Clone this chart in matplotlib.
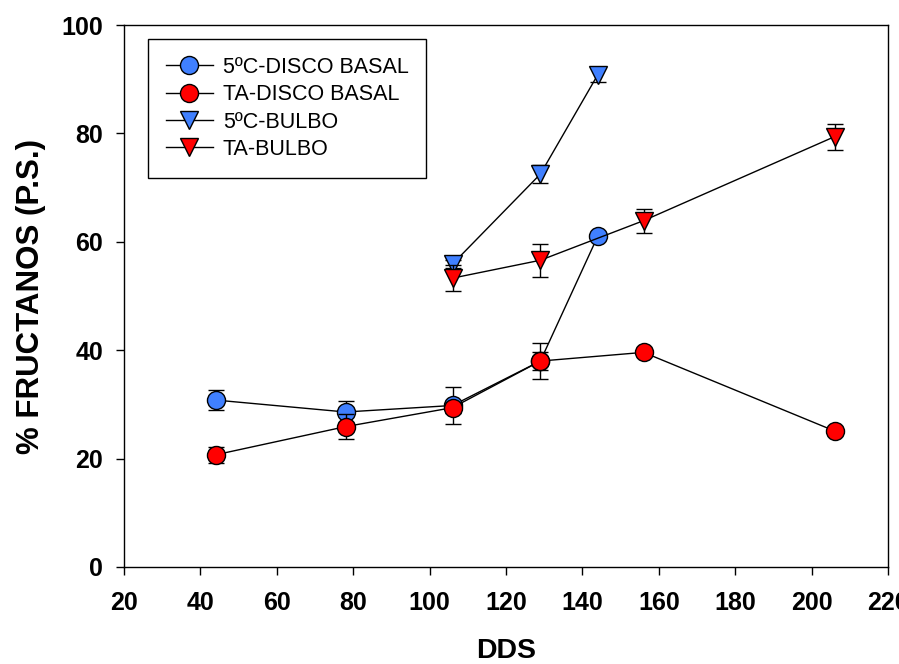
import matplotlib
matplotlib.use("Agg")
from matplotlib import pyplot as plt

plt.rcParams['font.family'] = ['Liberation Sans', 'DejaVu Sans']

BLUE = '#4080ff'
RED = '#ff0000'

# 5ºC - disco basal
x_5c_disco = [44, 78, 106, 129, 144]
y_5c_disco = [30.8, 28.6, 29.8, 38.0, 61.0]
e_5c_disco = [1.9, 2.1, 3.4, 3.3, 0.0]

# TA - disco basal
x_ta_disco = [44, 78, 106, 129, 156, 206]
y_ta_disco = [20.7, 25.9, 29.4, 38.0, 39.6, 25.1]
e_ta_disco = [1.5, 2.3, 1.0, 1.7, 0.0, 0.0]

# 5ºC - bulbo
x_5c_bulbo = [106, 129, 144]
y_5c_bulbo = [55.9, 72.5, 90.8]
e_5c_bulbo = [0.8, 1.7, 1.3]

# TA - bulbo
x_ta_bulbo = [106, 129, 156, 206]
y_ta_bulbo = [53.3, 56.6, 63.9, 79.4]
e_ta_bulbo = [2.4, 3.0, 2.2, 2.4]

x_ticks = [20, 40, 60, 80, 100, 120, 140, 160, 180, 200, 220]
y_ticks = [0, 20, 40, 60, 80, 100]

series = [
    (x_5c_disco, y_5c_disco, e_5c_disco, 'o', BLUE, '5ºC-DISCO BASAL'),
    (x_ta_disco, y_ta_disco, e_ta_disco, 'o', RED, 'TA-DISCO BASAL'),
    (x_5c_bulbo, y_5c_bulbo, e_5c_bulbo, 'v', BLUE, '5ºC-BULBO'),
    (x_ta_bulbo, y_ta_bulbo, e_ta_bulbo, 'v', RED, 'TA-BULBO'),
]

fig = plt.figure(figsize=(8.99, 6.64), dpi=100)
ax = fig.add_axes([0.1379, 0.1461, 0.8499, 0.8162])

handles = []
for i, (xs, ys, es, mk, col, lab) in enumerate(series):
    ax.errorbar(xs, ys, yerr=es, fmt='none', ecolor='black', elinewidth=1.0,
                capsize=6, capthick=1.0, zorder=2 + 2 * i)
    h, = ax.plot(xs, ys, color='black', linewidth=1.0, marker=mk,
                 markersize=13, markerfacecolor=col, markeredgecolor='black',
                 markeredgewidth=1.0, label=lab, zorder=3 + 2 * i)
    handles.append(h)

ax.set_xlim(20, 220)
ax.set_ylim(0, 100)
ax.set_xticks(x_ticks)
ax.set_yticks(y_ticks)
ax.tick_params(axis='both', direction='out', length=6, width=1.0,
               labelsize=18)
ax.tick_params(axis='x', pad=11)
ax.tick_params(axis='y', pad=9)
for lbl in ax.get_xticklabels() + ax.get_yticklabels():
    lbl.set_fontweight('bold')
for sp in ax.spines.values():
    sp.set_linewidth(1.0)

ax.set_xlabel('DDS', fontsize=20.5, fontweight='bold', labelpad=17)
ax.set_ylabel('% FRUCTANOS (P.S.)', fontsize=22.5, fontweight='bold', labelpad=11)

leg = fig.legend(handles=handles, loc='upper left',
                 bbox_to_anchor=(148 / 899, 1 - 39 / 664),
                 fontsize=15.5, frameon=True, fancybox=False,
                 edgecolor='black', framealpha=1.0, handlelength=2.2,
                 handletextpad=0.45, labelspacing=0.3, borderpad=0.82,
                 borderaxespad=0.0)
leg.get_frame().set_linewidth(1.0)

fig.savefig('out.png', dpi=100)
plt.close(fig)
